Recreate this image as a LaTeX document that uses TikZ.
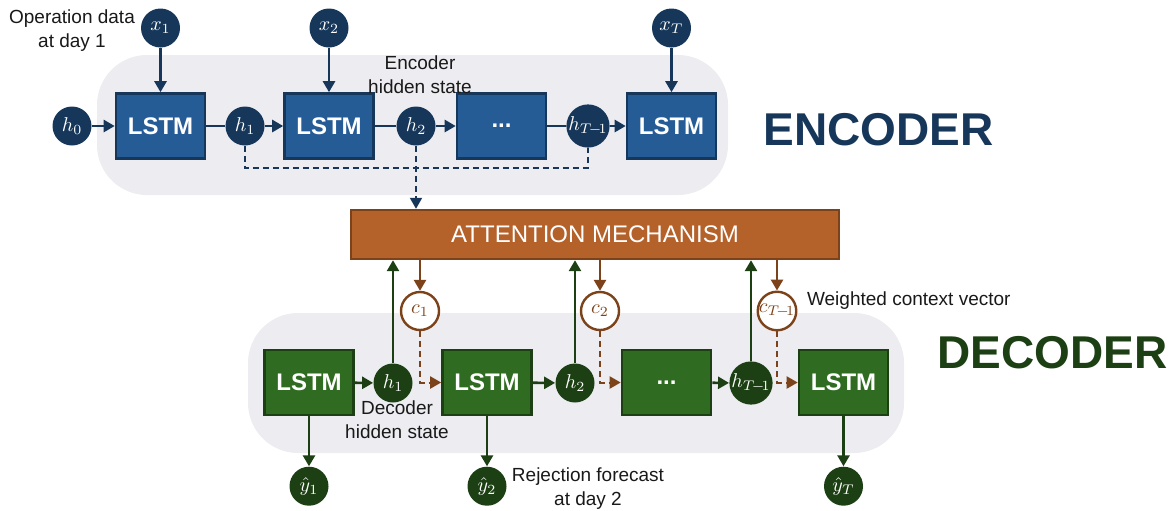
\documentclass[tikz,border=0pt]{standalone}
\usepackage{fontspec}
\setmainfont{Liberation Sans}
\usetikzlibrary{arrows.meta,positioning}
\definecolor{encblue}{HTML}{265C96}
\definecolor{encnavy}{HTML}{17375A}
\definecolor{decgreen}{HTML}{2F6B20}
\definecolor{decdark}{HTML}{1C4013}
\definecolor{attbrown}{HTML}{B5612A}
\definecolor{attdark}{HTML}{7C4219}
\definecolor{bggray}{HTML}{ECECF1}

\begin{document}
\begin{tikzpicture}[x=0.5pt, y=-0.5pt,
  lstmbox/.style={line width=1.3pt, minimum width=44.5pt, minimum height=32.5pt, inner sep=0pt, text=white, font=\fontsize{12}{14}\selectfont\bfseries},
  enclstm/.style={lstmbox, draw=encnavy, fill=encblue},
  declstm/.style={lstmbox, draw=decdark, fill=decgreen},
  statenode/.style={circle, minimum size=19.5pt, inner sep=0pt, text=white, font=\fontsize{10}{11}\selectfont},
  encstate/.style={statenode, fill=encnavy},
  decstate/.style={statenode, fill=decdark},
  ctxnode/.style={circle, minimum size=19pt, inner sep=0pt, draw=attdark, line width=1.2pt, fill=white, text=attdark, font=\fontsize{10}{11}\selectfont},
  attbox/.style={draw=attdark, fill=attbrown, line width=1.2pt, minimum width=244pt, minimum height=24.5pt, text=white, font=\fontsize{12}{14}\selectfont},
  note/.style={align=center, text=black!90, font=\fontsize{9.5}{12}\selectfont},
  encarrow/.style={draw=encnavy, line width=1.3pt, -{Triangle[length=5.5pt,width=6pt]}},
  encline/.style={draw=encnavy, line width=1.3pt},
  encdash/.style={draw=encnavy, line width=1pt, dash pattern=on 3pt off 2pt},
  decarrow/.style={draw=decdark, line width=1.3pt, -{Triangle[length=5.5pt,width=6pt]}},
  ctxarrow/.style={draw=attdark, line width=1.3pt, -{Triangle[length=5.5pt,width=6pt]}},
  ctxdash/.style={draw=attdark, line width=1pt, dash pattern=on 3pt off 2pt, -{Triangle[length=5.5pt,width=6pt]}}]

  \useasboundingbox (0,0) rectangle (1176,510);
  \fill[bggray, rounded corners=25pt] (97,55) rectangle (728,195);
  \fill[bggray, rounded corners=25pt] (248,313) rectangle (904,453);

  \node[encstate] (h0) at (72,126) {$h_0$};
  \node[enclstm] (el1) at (160.5,126) {LSTM};
  \node[encstate] (eh1) at (245,126) {$h_1$};
  \node[enclstm] (el2) at (329,126) {LSTM};
  \node[encstate] (eh2) at (416,126) {$h_2$};
  \node[enclstm] (el3) at (501.5,126) {...};
  \node[encstate] (eh3) at (588,126) {$h_{T\!-\!1}$};
  \node[enclstm] (el4) at (671.5,126) {LSTM};
  \node[encstate] (x1) at (160.5,28) {$x_1$};
  \node[encstate] (x2) at (329,28) {$x_2$};
  \node[encstate] (x3) at (671.5,28) {$x_T$};

  \node[note] (opdata) at (72,31) {Operation data\\at day 1};
  \node[note] (enchid) at (420,75) {Encoder\\hidden state};
  \node[text=encnavy, font=\fontsize{23}{26}\selectfont\bfseries] (enclabel) at (878.5,130) {ENCODER};

  \draw[encarrow] (h0) -- (el1);
  \draw[encline] (el1) -- (eh1);
  \draw[encarrow] (eh1) -- (el2);
  \draw[encline] (el2) -- (eh2);
  \draw[encarrow] (eh2) -- (el3);
  \draw[encline] (el3) -- (eh3);
  \draw[encarrow] (eh3) -- (el4);
  \draw[encarrow] (x1) -- (el1);
  \draw[encarrow] (x2) -- (el2);
  \draw[encarrow] (x3) -- (el4);

  \node[attbox] (att) at (595,234.5) {ATTENTION MECHANISM};

  \draw[encdash] (eh1) -- (245,168) -| (eh3);
  \draw[encdash, -{Triangle[length=5.5pt,width=6pt]}] (eh2) -- (eh2 |- att.north);

  \node[declstm] (dl1) at (309,382.5) {LSTM};
  \node[decstate] (dh1) at (393,383) {$h_1$};
  \node[ctxnode] (dc1) at (420,311) {$c_1$};
  \node[declstm] (dl2) at (487,382.5) {LSTM};
  \node[decstate] (dh2) at (575,383) {$h_2$};
  \node[ctxnode] (dc2) at (600,311) {$c_2$};
  \node[declstm] (dl3) at (666.5,382.5) {...};
  \node[decstate] (dh3) at (751,383) {$h_{T\!-\!1}$};
  \node[ctxnode] (dc3) at (777,311) {$c_{T\!-\!1}$};
  \node[declstm] (dl4) at (843.5,382.5) {LSTM};
  \node[decstate, below=25pt of dl1] (dy1) {$\hat{y}_1$};
  \node[decstate, below=25pt of dl2] (dy2) {$\hat{y}_2$};
  \node[decstate, below=25pt of dl4] (dy3) {$\hat{y}_T$};

  \node[note] (dechid) at (397,420) {Decoder\\hidden state};
  \node[note] (rejfc) at (588,489) {Rejection forecast\\at day 2};
  \node[note, anchor=west] (ctxvec) at (800,301) {Weighted context vector};
  \node[text=decdark, font=\fontsize{23}{26}\selectfont\bfseries] (declabel) at (1052.5,353) {DECODER};

  \draw[decarrow] (dl1) -- (dh1);
  \draw[decarrow] (dl2) -- (dh2);
  \draw[decarrow] (dl3) -- (dh3);
  \draw[decarrow] (dl1) -- (dy1);
  \draw[decarrow] (dl2) -- (dy2);
  \draw[decarrow] (dl4) -- (dy3);
  \draw[decarrow] (dh1) -- (dh1 |- att.south);
  \draw[decarrow] (dh2) -- (dh2 |- att.south);
  \draw[decarrow] (dh3) -- (dh3 |- att.south);
  \draw[ctxarrow] (dc1 |- att.south) -- (dc1);
  \draw[ctxarrow] (dc2 |- att.south) -- (dc2);
  \draw[ctxarrow] (dc3 |- att.south) -- (dc3);
  \draw[ctxdash] (dc1) -- (dc1 |- dl2.west) -- (dl2.west);
  \draw[ctxdash] (dc2) -- (dc2 |- dl3.west) -- (dl3.west);
  \draw[ctxdash] (dc3) -- (dc3 |- dl4.west) -- (dl4.west);
\end{tikzpicture}
\end{document}
